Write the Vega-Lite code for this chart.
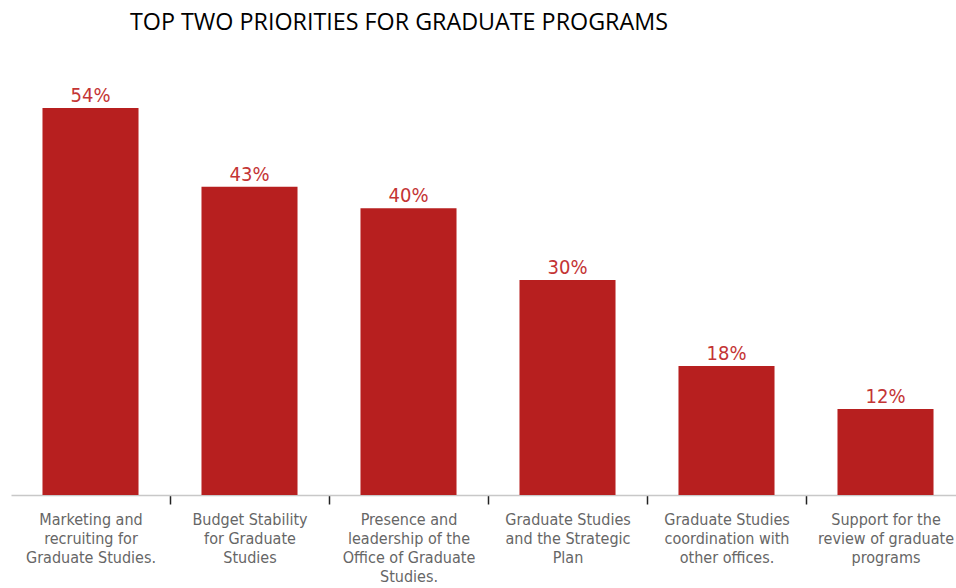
{
  "$schema": "https://vega.github.io/schema/vega-lite/v6.json",
  "autosize": {"type": "none"},
  "width": 945,
  "height": 430,
  "padding": {"left": 11, "top": 65, "right": 0, "bottom": 93},
  "background": "white",
  "title": {
    "text": "TOP TWO PRIORITIES FOR GRADUATE PROGRAMS",
    "anchor": "start",
    "frame": "group",
    "dx": 119,
    "offset": 30,
    "font": "Open Sans",
    "fontSize": 23.3,
    "fontWeight": "normal",
    "color": "#000000"
  },
  "data": {
    "values": [
      {"priority": "Marketing and|recruiting  for|Graduate Studies.", "share": 0.54},
      {"priority": "Budget Stability|for Graduate|Studies", "share": 0.43},
      {"priority": "Presence and|leadership of the|Office of Graduate|Studies.", "share": 0.40},
      {"priority": "Graduate Studies|and the Strategic|Plan", "share": 0.30},
      {"priority": "Graduate Studies|coordination with|other offices.", "share": 0.18},
      {"priority": "Support for the|review of graduate|programs", "share": 0.12}
    ]
  },
  "encoding": {
    "x": {
      "field": "priority",
      "type": "nominal",
      "sort": null,
      "title": null,
      "scale": {"range": [0, 954], "paddingInner": 0.396, "paddingOuter": 0.198},
      "axis": {
        "labelExpr": "split(datum.label, '|')",
        "labelAngle": 0,
        "labelFont": "Liberation Sans Narrow, DejaVu Sans Condensed, sans-serif",
        "labelFontSize": 16,
        "labelLineHeight": 19,
        "labelColor": "#666666",
        "labelPadding": 7,
        "labelLimit": 200,
        "labelOffset": -79.5,
        "domainColor": "#c8c8c8",
        "domainWidth": 1.5,
        "tickOffset": 79.5,
        "tickColor": "#222222",
        "tickSize": 9,
        "tickWidth": 1.5
      }
    },
    "y": {
      "field": "share",
      "type": "quantitative",
      "scale": {"domain": [0, 0.6]},
      "axis": null
    }
  },
  "layer": [
    {
      "mark": {"type": "bar", "color": "#B71F1F"}
    },
    {
      "mark": {
        "type": "text",
        "baseline": "bottom",
        "dy": -2,
        "font": "Liberation Sans Narrow, DejaVu Sans Condensed, sans-serif",
        "fontSize": 20,
        "color": "#C43434"
      },
      "encoding": {
        "text": {"field": "share", "type": "quantitative", "format": ".0%"}
      }
    }
  ],
  "config": {"view": {"stroke": null}}
}
